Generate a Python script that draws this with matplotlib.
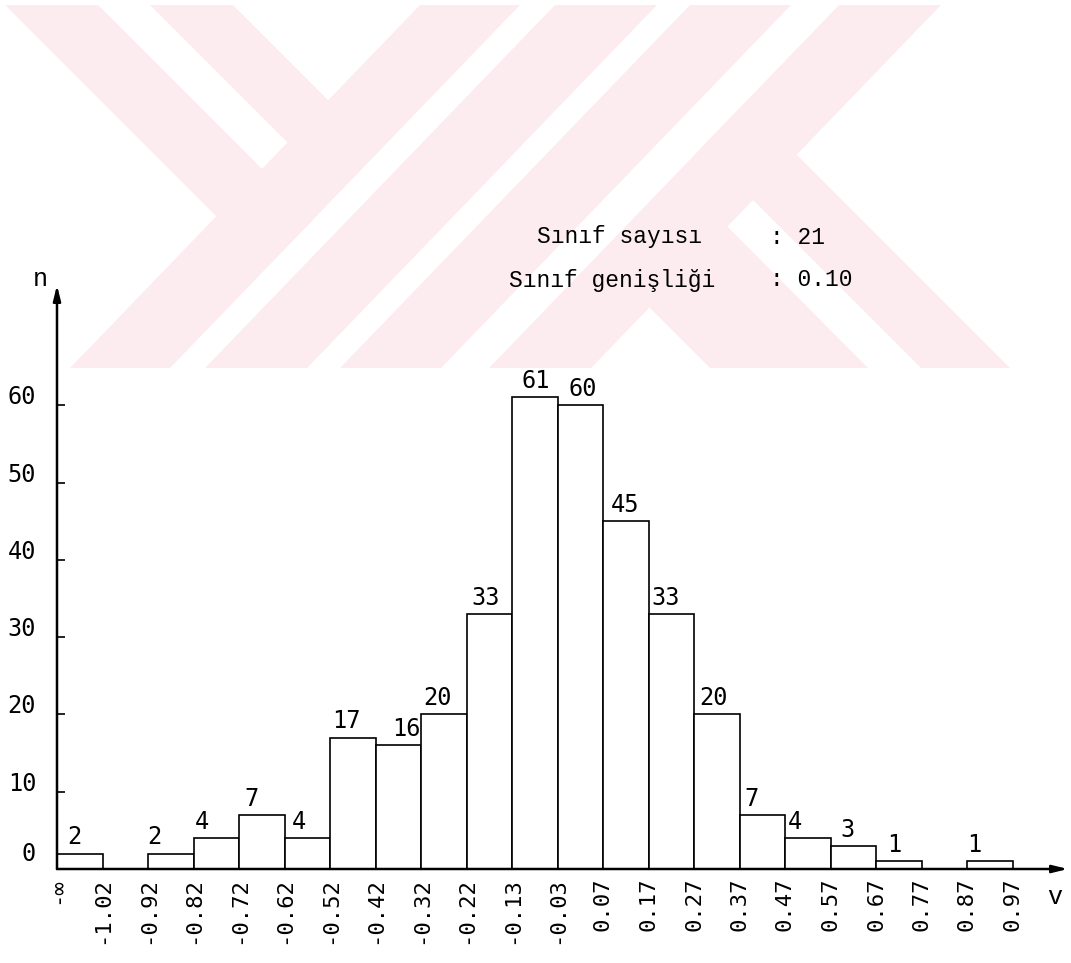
import matplotlib
matplotlib.use("Agg")
import matplotlib.pyplot as plt
from matplotlib.patches import Polygon

# ---------------- data ----------------
edge_labels = ["-∞", "-1.02", "-0.92", "-0.82", "-0.72", "-0.62", "-0.52",
               "-0.42", "-0.32", "-0.22", "-0.13", "-0.03", "0.07", "0.17",
               "0.27", "0.37", "0.47", "0.57", "0.67", "0.77", "0.87", "0.97"]
counts = [2, 0, 2, 4, 7, 4, 17, 16, 20, 33, 61, 60, 45, 33, 20, 7, 4, 3, 1, 0, 1]
y_ticks = [0, 10, 20, 30, 40, 50, 60]
info_names = ["Sınıf sayısı", "Sınıf genişliği"]
info_values = [": 21", ": 0.10"]
axis_x_name = "v"
axis_y_name = "n"

# ---------------- layout / style ----------------
W, H, DPI = 1071, 963, 100
X0, Y0 = 57, 869          # origin in pixels
BIN_PX = 45.5             # pixels per class
UNIT_PX = 7.73            # pixels per count
X_END, Y_END = 1068, 285  # arrow tips (pixels)
label_dx_px = [-5, 0, -16, -14, -10, -8, -6, 8, -6, -4, 1, 3, -1, -6, -3,
               -11, -13, -6, -4, 0, -15]
NUM_FONT = ["DejaVu Sans Mono"]
TXT_FONT = ["Liberation Mono", "DejaVu Sans Mono"]
PINK = "#fdecef"

fig = plt.figure(figsize=(W / DPI, H / DPI), dpi=DPI)

# background watermark (pixel coordinates, y downward)
bg = fig.add_axes([0, 0, 1, 1], zorder=0)
bg.set_xlim(0, W)
bg.set_ylim(H, 0)
bg.axis("off")
k = 0.964
def slash(x_top_l, x_top_r, y0=5, y1=368):
    return [(x_top_l, y0), (x_top_r, y0),
            (x_top_r - k * (y1 - y0), y1), (x_top_l - k * (y1 - y0), y1)]
wm = [
    slash(420, 520), slash(555, 657), slash(690, 791), slash(839, 941),
    [(5, 5), (98, 5), (313, 220), (267, 267)],
    [(150, 5), (233, 5), (379, 151), (338, 193)],
    [(701, 148), (745, 103), (1010, 368), (921, 368)],
    [(642, 300), (705, 204), (868, 368), (710, 368)],
]
for poly in wm:
    bg.add_patch(Polygon(poly, closed=True, facecolor=PINK, edgecolor="none"))

# main axes mapped to pixels
xmax = (X_END - X0) / BIN_PX
ymax = (Y0 - Y_END) / UNIT_PX
ax = fig.add_axes([X0 / W, (H - Y0) / H, (X_END - X0) / W, (Y0 - Y_END) / H],
                  zorder=1)
ax.patch.set_alpha(0)
ax.set_xlim(0, xmax)
ax.set_ylim(0, ymax)
for s in ax.spines.values():
    s.set_visible(False)

ax.bar(range(len(counts)), counts, width=1, align="edge",
       facecolor="white", edgecolor="black", linewidth=1.2, zorder=2)

arrow_kw = dict(arrowstyle="-|>,head_length=0.9,head_width=0.22",
                lw=1.8, color="black", shrinkA=0, shrinkB=0)
ax.annotate("", xy=(xmax, 0), xytext=(0, 0), arrowprops=arrow_kw,
            annotation_clip=False, zorder=3)
ax.annotate("", xy=(0, ymax), xytext=(0, 0), arrowprops=arrow_kw,
            annotation_clip=False, zorder=3)

# x tick labels at class edges
ax.set_xticks(range(len(edge_labels)))
ax.set_xticklabels(edge_labels, rotation=90, fontfamily=NUM_FONT, fontsize=16)
ax.tick_params(axis="x", length=0, pad=6)

# y ticks (inward) with manual labels
ax.set_yticks(y_ticks)
ax.set_yticklabels([])
ax.tick_params(axis="y", direction="in", length=6, width=1.2)
for v in y_ticks:
    up = 15 if v == 0 else 8
    ax.annotate(str(v), xy=(0, v), xytext=(-15, up * 0.72),
                textcoords="offset points", ha="right", va="center",
                fontfamily=NUM_FONT, fontsize=17, annotation_clip=False)

# count labels
for i, c in enumerate(counts):
    if c > 0:
        ax.annotate(str(c), xy=(i + 0.5, c),
                    xytext=(label_dx_px[i] * 0.72, 3),
                    textcoords="offset points", ha="center", va="bottom",
                    fontfamily=NUM_FONT, fontsize=17, zorder=4)

# axis names
ax.annotate(axis_y_name, xy=(0, ymax), xytext=(-17 * 0.72, 6 * 0.72),
            textcoords="offset points", ha="center", va="center",
            fontfamily=TXT_FONT, fontsize=18, annotation_clip=False)
ax.annotate(axis_x_name, xy=(xmax, 0), xytext=(-13 * 0.72, -28 * 0.72),
            textcoords="offset points", ha="center", va="center",
            fontfamily=TXT_FONT, fontsize=18, annotation_clip=False)

# info block
def fx(px):
    return px / W
def fy(py):
    return 1 - py / H
name_x = [537, 509]
line_y = [237, 280]
for nm, val, nx, ly in zip(info_names, info_values, name_x, line_y):
    fig.text(fx(nx), fy(ly), nm, ha="left", va="center",
             fontfamily=TXT_FONT, fontsize=16.5)
    fig.text(fx(770), fy(ly), val, ha="left", va="center",
             fontfamily=TXT_FONT, fontsize=16.5)

fig.savefig("out.png", dpi=DPI)
